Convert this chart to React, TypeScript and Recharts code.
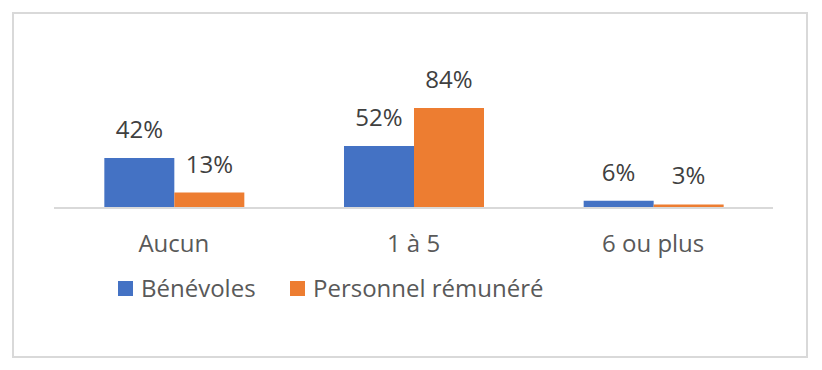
import { BarChart, Bar, XAxis, YAxis, Legend, LabelList } from 'recharts';

const categories = ['Aucun', '1 à 5', '6 ou plus'];
const benevoles = [42, 52, 6];
const remuneres = [13, 84, 3];
const seriesNames = ['Bénévoles', 'Personnel rémunéré'];
const colors = ['#4472C4', '#ED7D31'];

const chartData = categories.map((c, i) => ({
    category: c,
    benevoles: benevoles[i],
    remuneres: remuneres[i],
}));

const FONT = '"Open Sans", "Noto Sans", sans-serif';

const ValueLabel = (props: any) => {
    const { x, y, width, value } = props;
    return (
        <text
            x={x + width / 2}
            y={y - 20}
            textAnchor="middle"
            fill="#404040"
            fontSize={24}
            fontFamily={FONT}
        >
            {value}%
        </text>
    );
};

const CategoryTick = (props: any) => {
    const { x, y, payload } = props;
    return (
        <text x={x} y={y + 44} textAnchor="middle" fill="#595959" fontSize={24} fontFamily={FONT}>
            {payload.value}
        </text>
    );
};

const LegendContent = () => (
    <div style={{ display: 'flex', alignItems: 'center', height: 24, fontFamily: FONT, fontSize: 24, color: '#595959' }}>
        {seriesNames.map((name, i) => (
            <div key={name} style={{ display: 'flex', alignItems: 'center', width: i === 0 ? 172 : 'auto', lineHeight: '24px' }}>
                <span style={{ display: 'inline-block', width: 15, height: 15, background: colors[i], marginRight: 8 }} />
                <span style={{ whiteSpace: 'nowrap' }}>{name}</span>
            </div>
        ))}
    </div>
);

export default function App() {
    return (
        <div style={{ position: 'relative', width: 806, height: 354 }}>
            <div
                style={{
                    position: 'absolute',
                    left: 4,
                    top: 4,
                    width: 796,
                    height: 346,
                    border: '2px solid #d9d9d9',
                    boxSizing: 'border-box',
                    background: '#fff',
                }}
            />
            <div style={{ position: 'absolute', left: 0, top: 0 }}>
                <BarChart
                    width={806}
                    height={354}
                    data={chartData}
                    margin={{ top: 81, right: 41, left: 46, bottom: 104 }}
                    barCategoryGap="21%"
                    barGap={0}
                >
                    <XAxis
                        dataKey="category"
                        height={50}
                        tickLine={false}
                        tickSize={0}
                        tickMargin={0}
                        axisLine={{ stroke: '#d9d9d9', strokeWidth: 2 }}
                        tick={<CategoryTick />}
                        interval={0}
                    />
                    <YAxis hide domain={[0, 100]} />
                    <Legend
                        layout="horizontal"
                        verticalAlign="middle"
                        align="center"
                        wrapperStyle={{ left: 110, top: 268, width: 500, height: 24 }}
                        content={<LegendContent />}
                    />
                    <Bar dataKey="benevoles" name={seriesNames[0]} fill={colors[0]} isAnimationActive={false}>
                        <LabelList dataKey="benevoles" content={<ValueLabel />} />
                    </Bar>
                    <Bar dataKey="remuneres" name={seriesNames[1]} fill={colors[1]} isAnimationActive={false}>
                        <LabelList dataKey="remuneres" content={<ValueLabel />} />
                    </Bar>
                </BarChart>
            </div>
        </div>
    );
}
